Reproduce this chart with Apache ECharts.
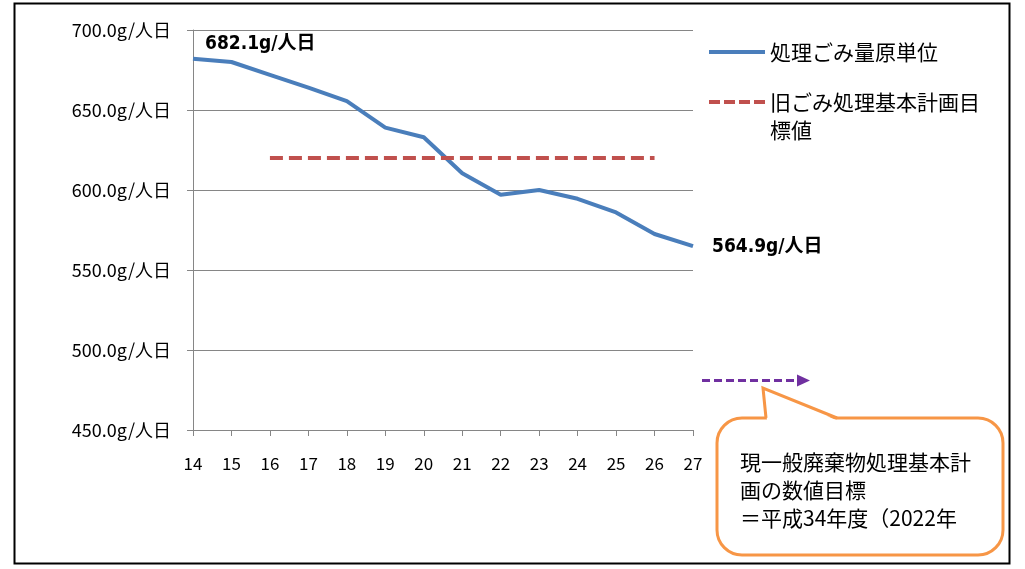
<!DOCTYPE html>
<html><head><meta charset="utf-8">
<script src="https://cdn.jsdelivr.net/npm/echarts@6/dist/echarts.min.js"></script>
<style>html,body{margin:0;padding:0;background:#fff}#c{width:1025px;height:569px}</style>
</head><body><div id="c"></div>
<script>
const years = ['14','15','16','17','18','19','20','21','22','23','24','25','26','27'];
const unitValues = [682.1, 680.0, 672.0, 664.0, 655.5, 639.0, 633.0, 610.5, 597.0, 600.0, 594.5, 586.0, 572.5, 564.9];
const oldTarget = [null, null, 620, 620, 620, 620, 620, 620, 620, 620, 620, 620, 620, null];
const currentTargetValue = 481;
const seriesNames = ['処理ごみ量原単位', '旧ごみ処理基本計画目標値'];
const legendLines2 = ['旧ごみ処理基本計画目', '標値'];
const calloutLines = ['現一般廃棄物処理基本計', '画の数値目標', '＝平成34年度（2022年'];

const font = "'Noto Sans CJK JP', 'Noto Sans', sans-serif";
const chart = echarts.init(document.getElementById('c'));

const lastIdx = unitValues.length - 1;
const mainData = unitValues.map((v, i) => {
  if (i === 0) return {value: v, label: {show: true, position: 'right', offset: [7, -15], formatter: v.toFixed(1) + 'g/人日'}};
  if (i === lastIdx) return {value: v, label: {show: true, position: 'right', offset: [14, 1], formatter: v.toFixed(1) + 'g/人日'}};
  return v;
});

const legendText = {fontFamily: font, fontSize: 21, color: '#000', lineHeight: 28};

chart.setOption({
  animation: false,
  backgroundColor: '#fff',
  grid: {left: 193, right: 332, top: 30, bottom: 139, containLabel: false},
  legend: [
    {
      left: 704, top: 33, itemWidth: 56, itemHeight: 4, itemGap: 0,
      textStyle: legendText,
      data: [{name: seriesNames[0], icon: 'rect'}]
    },
    {
      left: 704, top: 83, itemWidth: 56, itemHeight: 4, itemGap: 0,
      textStyle: legendText,
      formatter: function () { return legendLines2[0]; },
      data: [{name: seriesNames[1], icon: 'path://M0,0h11v4h-11z M15,0h11v4h-11z M30,0h11v4h-11z M45,0h11v4h-11z'}]
    }
  ],
  xAxis: {
    type: 'category', data: years, boundaryGap: false,
    axisLine: {lineStyle: {color: '#868686', width: 1}},
    axisTick: {show: true, length: 6, alignWithLabel: true, lineStyle: {color: '#868686'}},
    axisLabel: {fontFamily: font, fontSize: 17, color: '#000', margin: 25},
    splitLine: {show: false}
  },
  yAxis: {
    type: 'value', min: 450, max: 700, interval: 50,
    axisLine: {show: true, lineStyle: {color: '#868686', width: 1}},
    axisTick: {show: true, length: 6, lineStyle: {color: '#868686'}},
    axisLabel: {fontFamily: font, fontSize: 18, color: '#000', margin: 22,
      formatter: v => v.toFixed(1) + 'g/人日'},
    splitLine: {lineStyle: {color: '#868686', width: 1}}
  },
  series: [
    {
      name: seriesNames[0], type: 'line', data: mainData, symbol: 'circle', symbolSize: 0.01, showSymbol: true, smooth: false,
      lineStyle: {color: '#4A7EBB', width: 4}, itemStyle: {color: '#4A7EBB'},
      label: {show: false, color: '#000', fontWeight: 'bold', fontSize: 19,
        fontFamily: "'DejaVu Sans Condensed', 'Liberation Sans Narrow', 'Noto Sans CJK JP', sans-serif"}
    },
    {
      name: seriesNames[1], type: 'line', data: oldTarget, symbol: 'none', connectNulls: false,
      lineStyle: {color: '#C0504D', width: 4, type: [13, 6]}, itemStyle: {color: '#C0504D'}
    }
  ]
});

// annotations (arrow for current target + callout)
const yT = chart.convertToPixel({yAxisIndex: 0}, currentTargetValue);
chart.setOption({
  graphic: [
    {type: 'rect', shape: {x: 14.5, y: 3.5, width: 995, height: 560}, style: {fill: 'none', stroke: '#000', lineWidth: 2}, silent: true, z: 0},
    {type: 'text', x: 770, y: 130, z: 5,
     style: {text: legendLines2[1], font: "21px 'Noto Sans CJK JP', sans-serif", fill: '#000', verticalAlign: 'middle'}},
    {type: 'line', shape: {x1: 702, y1: yT, x2: 798, y2: yT}, style: {stroke: '#7030A0', lineWidth: 3, lineDash: [8, 4]}, z: 10},
    {type: 'polygon', shape: {points: [[797, yT - 6], [810, yT], [797, yT + 6]]}, style: {fill: '#7030A0'}, z: 10},
    {type: 'rect', shape: {x: 717, y: 418, width: 286, height: 137, r: 25}, style: {fill: '#fff', stroke: '#F79646', lineWidth: 3}, z: 10},
    {type: 'polygon', shape: {points: [[767, 420], [763, 388], [836, 420]]}, style: {fill: '#fff'}, z: 11},
    {type: 'polyline', shape: {points: [[766, 418], [763, 388], [837, 418]]}, style: {stroke: '#F79646', lineWidth: 3, fill: null}, z: 12},
    {type: 'text', x: 740, y: 448, z: 13,
     style: {text: calloutLines.join('\n'), font: "21px 'Noto Sans CJK JP', sans-serif", fill: '#000', lineHeight: 28}}
  ]
});
</script></body></html>
